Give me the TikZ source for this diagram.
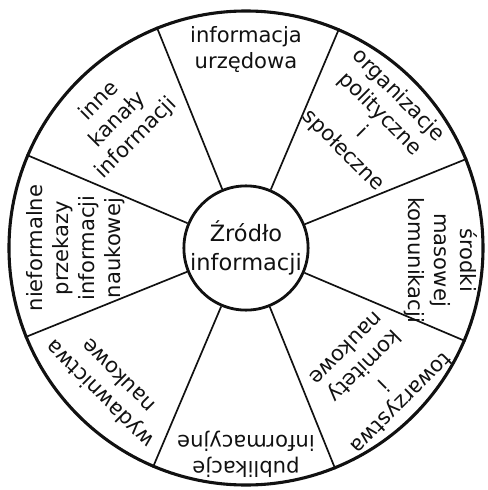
\documentclass[tikz,border=0pt]{standalone}
\usepackage{fontspec}
\setmainfont{DejaVu Sans}
\usepackage{tikz}
\usetikzlibrary{positioning}
\definecolor{inkBlack}{HTML}{111111}

\begin{document}
\begin{tikzpicture}[x=0.25mm, y=0.25mm,
    sectorlbl/.style={anchor=north, inner sep=0pt, align=center,
      font=\fontsize{15}{18.5}\selectfont, text=inkBlack}]
  \useasboundingbox (-246,-242) rectangle (242,248);
  % wheel: rim and hub
  \node[draw=inkBlack, line width=2.2pt, circle, minimum size=118.5mm,
        inner sep=0pt] (rim) at (0, 0) {};
  \node[draw=inkBlack, line width=2pt, circle, minimum size=29.75mm,
        inner sep=0pt, align=center, text=inkBlack,
        font=\fontsize{16}{21}\selectfont] (src) at (0, 0)
        {Źródło\\informacji};
  \foreach \a in {22.5,67.5,...,337.5}
    \draw[inkBlack, line width=1.2pt] (src.\a) -- (rim.\a);
  % sector labels, first line towards the rim
  \node[sectorlbl, rotate=0]    (urz) at (90:222)  {informacja\\urzędowa};
  \node[sectorlbl, rotate=-45]  (org) at (45:226)  {organizacje\\polityczne\\i\\społeczne};
  \node[sectorlbl, rotate=-90]  (mas) at (-3:232)  {środki\\masowej\\komunikacji};
  \node[sectorlbl, rotate=-135] (tow) at (-45:228) {towarzystwa\\i\\komitety\\naukowe};
  \node[sectorlbl, rotate=180]  (pub) at (-90:230) {publikacje\\informacyjne};
  \node[sectorlbl, rotate=135]  (wyd) at (-135:216) {wydawnictwa\\naukowe};
  \node[sectorlbl, rotate=90]   (nie) at (180:220) {nieformalne\\przekazy\\informacji\\naukowej};
  \node[sectorlbl, rotate=45]   (inn) at (135:218) {inne\\kanały\\informacji};
\end{tikzpicture}
\end{document}
